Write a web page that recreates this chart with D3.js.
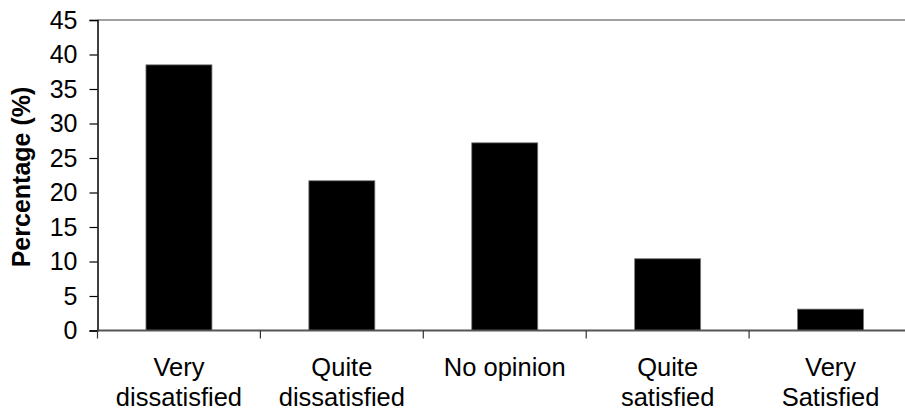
<!DOCTYPE html>
<html><head><meta charset="utf-8">
<script src="https://cdn.jsdelivr.net/npm/d3@7"></script>
<style>body{margin:0;background:#fff}svg{display:block;font-family:"Liberation Sans",Arial,sans-serif}</style>
</head><body><svg id="c" width="905" height="412"></svg>
<script>
const categories = [["Very","dissatisfied"],["Quite","dissatisfied"],["No opinion"],["Quite","satisfied"],["Very","Satisfied"]];
const values = [38.5, 21.7, 27.2, 10.4, 3.1];
const yTicks = [0,5,10,15,20,25,30,35,40,45];
const yTitle = "Percentage (%)";

const svg = d3.select("#c");
const pLeft = 97.5, pRight = 912, pTop = 20, pBottom = 330.5;
const keys = categories.map((d,i)=>i);
const x = d3.scaleBand().domain(keys).range([pLeft,pRight]).paddingInner(0.595).paddingOuter(0.2975);
const band = d3.scaleBand().domain(keys).range([pLeft,pRight]);
const y = d3.scaleLinear().domain([0,45]).range([pBottom,pTop]);

// top border
svg.append("line").attr("x1",pLeft).attr("x2",pRight).attr("y1",pTop).attr("y2",pTop).attr("stroke","#808080").attr("stroke-width",1.5);

svg.selectAll("rect.bar").data(values).join("rect").attr("class","bar")
  .attr("x",(d,i)=>x(i)).attr("width",x.bandwidth())
  .attr("y",d=>y(d)).attr("height",d=>y(0)-y(d))
  .attr("fill","#000").attr("stroke","#777").attr("stroke-width",0.8);

// y axis
const ya = svg.append("g").attr("transform",`translate(${pLeft},0)`)
  .call(d3.axisLeft(y).tickValues(yTicks).tickSize(8).tickPadding(12));
ya.select(".domain").attr("stroke","#000").attr("stroke-width",1.5);
ya.selectAll(".tick line").attr("stroke","#000").attr("stroke-width",1.2);
ya.selectAll(".tick text").attr("font-size",25).attr("fill","#000").attr("font-family","Liberation Sans, Arial, sans-serif");

// x axis
svg.append("line").attr("x1",pLeft).attr("x2",pRight).attr("y1",pBottom).attr("y2",pBottom).attr("stroke","#555").attr("stroke-width",1.8);
const edges = d3.range(categories.length+1).map(i=> i<categories.length ? band(i) : pRight);
svg.selectAll("line.xt").data(edges).join("line").attr("class","xt")
  .attr("x1",d=>d).attr("x2",d=>d).attr("y1",pBottom).attr("y2",pBottom+8).attr("stroke","#333").attr("stroke-width",1.2);

const lbl = svg.selectAll("text.xl").data(categories).join("text").attr("class","xl")
  .attr("text-anchor","middle").attr("font-size",25.5).attr("fill","#000");
lbl.each(function(lines,i){
  const t=d3.select(this);
  const cx = band(i)+band.bandwidth()/2;
  lines.forEach((s,j)=>{
    t.append("tspan").attr("x",cx).attr("y", 376 + j*30).text(s);
  });
});

svg.append("text").attr("transform","translate(30,177) rotate(-90)")
  .attr("text-anchor","middle").attr("font-size",25).attr("font-weight","bold").attr("fill","#000").text(yTitle);
</script></body></html>
